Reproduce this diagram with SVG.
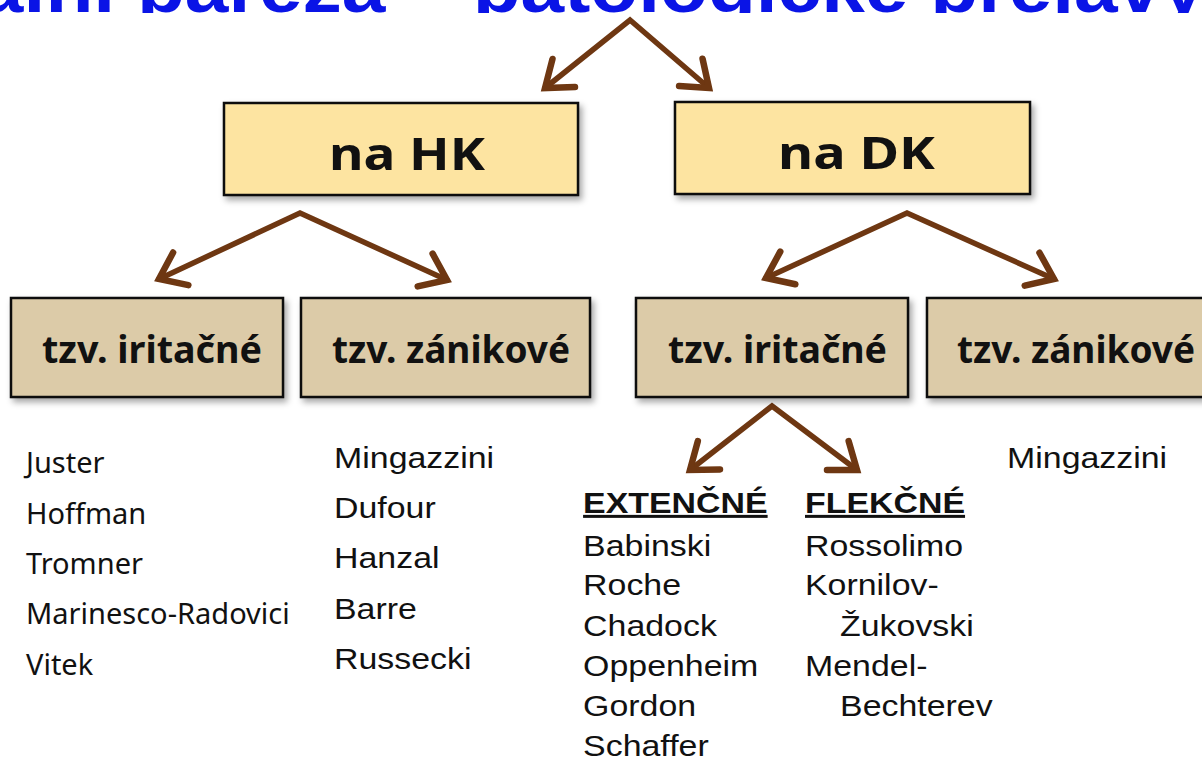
<svg xmlns="http://www.w3.org/2000/svg" width="1202" height="762" viewBox="0 0 1202 762">
<style>
.title{font-family:"Liberation Sans",Arial,sans-serif;font-weight:bold;font-size:72px;fill:#0a14e6}
.box1{fill:#fde4a1;stroke:#111;stroke-width:2.5}
.box2{fill:#dccba8;stroke:#111;stroke-width:2.5}
.lbl1{font-family:"Noto Sans",Lato,sans-serif;font-weight:bold;font-size:44px;fill:#111}
.lbl2{font-family:"Noto Sans",Lato,sans-serif;font-weight:bold;font-size:37px;fill:#111}
.gill{font-family:"Noto Sans",Lato,sans-serif;font-size:29px;fill:#111}
.arial{font-family:"Liberation Sans",Arial,sans-serif;font-size:30px;fill:#111}
.hd{font-family:"Liberation Sans",Arial,sans-serif;font-size:30px;font-weight:bold;fill:#111;text-decoration:underline}
.conn{fill:none;stroke:#6e3712;stroke-width:5.5;stroke-linejoin:miter;stroke-linecap:round}
</style>
<defs>
<filter id="sh" x="-10%" y="-10%" width="125%" height="135%">
<feDropShadow dx="3" dy="4" stdDeviation="3" flood-color="#000" flood-opacity="0.35"/>
</filter>
<clipPath id="topclip"><rect x="0" y="0" width="1202" height="13"/></clipPath>
<marker id="ah" markerUnits="userSpaceOnUse" orient="auto-start-reverse" overflow="visible" refX="0" refY="0" markerWidth="1" markerHeight="1">
<path d="M-24,-18 L0,0 L-24,18" fill="none" stroke="#6e3712" stroke-width="6.5" stroke-linecap="round" stroke-linejoin="miter"/>
</marker>
</defs>
<rect width="1202" height="762" fill="#fff"/>
<g clip-path="url(#topclip)">
<text class="title" x="-20" y="12" textLength="1225" lengthAdjust="spacingAndGlyphs">ální paréza – patologické prejavy</text>
</g>

<g id="connectors">
<path class="conn" d="M545,88 L630,20 L709,88" marker-start="url(#ah)" marker-end="url(#ah)"/>
<path class="conn" d="M159,279 L300,213 L447,280" marker-start="url(#ah)" marker-end="url(#ah)"/>
<path class="conn" d="M766,278 L907,213 L1054,279" marker-start="url(#ah)" marker-end="url(#ah)"/>
<path class="conn" d="M690,470 L772,406 L857,470" marker-start="url(#ah)" marker-end="url(#ah)"/>
</g>

<g id="node-hk">
<rect class="box1" x="224" y="103" width="354" height="92" filter="url(#sh)"/>
<text class="lbl1" x="329" y="170" textLength="156" lengthAdjust="spacingAndGlyphs">na HK</text>
</g>
<g id="node-dk">
<rect class="box1" x="675" y="102" width="355" height="92" filter="url(#sh)"/>
<text class="lbl1" x="778" y="169" textLength="157" lengthAdjust="spacingAndGlyphs">na DK</text>
</g>
<g id="node-hk-irit">
<rect class="box2" x="11" y="298" width="272" height="99" filter="url(#sh)"/>
<text class="lbl2" x="42" y="363" textLength="220" lengthAdjust="spacingAndGlyphs">tzv. iritačné</text>
</g>
<g id="node-hk-zan">
<rect class="box2" x="301" y="298" width="289" height="99" filter="url(#sh)"/>
<text class="lbl2" x="332" y="363" textLength="238" lengthAdjust="spacingAndGlyphs">tzv. zánikové</text>
</g>
<g id="node-dk-irit">
<rect class="box2" x="636" y="298" width="272" height="99" filter="url(#sh)"/>
<text class="lbl2" x="668" y="363" textLength="219" lengthAdjust="spacingAndGlyphs">tzv. iritačné</text>
</g>
<g id="node-dk-zan">
<rect class="box2" x="927" y="298" width="290" height="99" filter="url(#sh)"/>
<text class="lbl2" x="957" y="363" textLength="238" lengthAdjust="spacingAndGlyphs">tzv. zánikové</text>
</g>

<g id="list-hk-irit" class="gill">
<text x="26" y="473">Juster</text>
<text x="26" y="524">Hoffman</text>
<text x="26" y="574">Tromner</text>
<text x="26" y="624">Marinesco-Radovici</text>
<text x="26" y="675">Vitek</text>
</g>

<g transform="scale(1.13,1)">
<g id="list-hk-zan" class="arial">
<text x="295.6" y="468">Mingazzini</text>
<text x="295.6" y="518">Dufour</text>
<text x="295.6" y="568">Hanzal</text>
<text x="295.6" y="619">Barre</text>
<text x="295.6" y="669">Russecki</text>
</g>
<g id="list-dk-zan" class="arial">
<text x="891.2" y="468">Mingazzini</text>
</g>
<g id="list-ext">
<text class="hd" x="516" y="513">EXTENČNÉ</text>
<g class="arial">
<text x="516" y="556">Babinski</text>
<text x="516" y="595">Roche</text>
<text x="516" y="636">Chadock</text>
<text x="516" y="676">Oppenheim</text>
<text x="516" y="716">Gordon</text>
<text x="516" y="756">Schaffer</text>
</g>
</g>
<g id="list-flex">
<text class="hd" x="712.4" y="513">FLEKČNÉ</text>
<g class="arial">
<text x="712.4" y="556">Rossolimo</text>
<text x="712.4" y="595">Kornilov-</text>
<text x="743.4" y="636">Žukovski</text>
<text x="712.4" y="676">Mendel-</text>
<text x="743.4" y="716">Bechterev</text>
</g>
</g>
</g>
</svg>
